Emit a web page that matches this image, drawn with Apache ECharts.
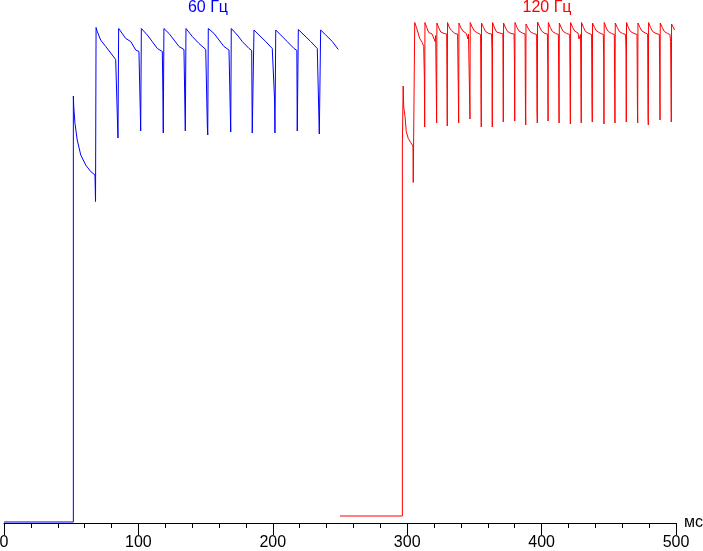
<!DOCTYPE html>
<html>
<head>
<meta charset="utf-8">
<script src="https://cdn.jsdelivr.net/npm/echarts@6/dist/echarts.min.js"></script>
<style>
html,body{margin:0;padding:0;background:#fff;}
#chart{width:703px;height:551px;}
</style>
</head>
<body>
<div id="chart"></div>
<script>
// Series labels
const seriesNames = ['60 Гц', '120 Гц'];
const axisUnit = 'мс';
// X axis ticks (ms)
const xTicks = [0, 100, 200, 300, 400, 500];

// 60 Hz response: [time ms, level]
const blueData = [
  [0, 0.2], [51.6, 0.2], [51.6, 85.4], [51.9, 83.2], [52.8, 79.9], [54.5, 76.6], [57.1, 73.6], [60.8, 71.6], [64.5, 70.3], [67.7, 69.6], [68.1, 64.3],
  [68.5, 99.1], [69.4, 98.3], [71.9, 96.6], [75.7, 95.3], [79.4, 94.0], [83.1, 92.7], [84.5, 92.6], [84.8, 77.0],
  [85.3, 98.9], [90.6, 96.9], [94.3, 96.3], [98.0, 94.6], [100.4, 94.3], [101.4, 82.4], [101.7, 78.4],
  [102.2, 98.9], [106.6, 97.6], [110.3, 96.3], [114.1, 94.9], [117.8, 94.3], [118.2, 86.1], [118.5, 78.0],
  [119.0, 98.9], [122.8, 97.9], [126.5, 96.6], [130.2, 95.3], [133.9, 94.7], [134.9, 78.4],
  [135.4, 98.9], [140.1, 97.3], [145.1, 95.9], [150.1, 94.7], [151.3, 79.2], [151.6, 77.6],
  [152.0, 98.9], [156.3, 97.9], [160.0, 96.6], [163.7, 95.3], [167.4, 94.6], [168.7, 78.2],
  [169.1, 98.9], [173.6, 97.6], [177.3, 96.3], [182.3, 94.9], [184.3, 94.5], [184.7, 78.0],
  [186.0, 98.6], [189.7, 97.6], [194.7, 96.3], [199.6, 94.9], [201.3, 84.8], [201.6, 78.0],
  [202.2, 98.6], [205.9, 97.6], [210.7, 96.3], [215.8, 94.9], [217.9, 94.5], [218.2, 78.4],
  [219.0, 98.7], [223.2, 97.6], [228.2, 96.3], [233.1, 94.9], [234.3, 94.6], [234.6, 77.8],
  [235.6, 98.6], [239.4, 97.6], [244.3, 96.3], [248.7, 94.7]
];

// 120 Hz response: [time ms, level]
const redData = [
  [250, 1.4], [296.4, 1.4], [296.4, 75.6], [297.0, 87.4], [297.4, 83.2], [298.4, 81.3], [299.3, 78.3], [300.8, 76.9], [302.6, 76.1], [304.3, 75.4], [304.5, 68.1],
  [305.6, 100.1], [307.5, 98.6], [309.3, 96.9], [311.2, 96.1], [312.3, 95.3], [312.8, 88.8], [313.0, 79.2],
  [313.2, 100.1], [314.5, 99.1], [316.0, 98.1], [318.5, 97.8], [320.8, 96.3], [321.2, 97.5], [321.9, 80.0],
  [322.1, 100.0], [323.5, 99.0], [325.0, 98.2], [327.5, 97.9], [329.4, 97.8], [329.8, 79.4],
  [330.0, 100.1], [331.5, 99.0], [333.0, 98.5], [335.5, 97.9], [337.5, 97.8], [338.0, 86.8], [338.3, 80.0],
  [338.5, 100.0], [340.0, 99.0], [341.5, 98.4], [344.0, 97.9], [345.2, 96.8], [345.6, 97.8], [346.7, 80.8],
  [346.9, 100.1], [348.3, 99.2], [350.0, 98.4], [352.5, 98.0], [354.6, 97.7], [354.9, 85.8], [355.1, 79.2],
  [355.3, 100.0], [356.8, 99.1], [358.3, 98.3], [360.8, 97.9], [362.8, 97.8], [363.1, 94.4], [363.3, 79.2],
  [363.5, 100.1], [365.0, 99.0], [366.5, 98.2], [369.0, 98.0], [371.2, 97.8], [371.5, 80.2],
  [371.7, 100.0], [373.2, 99.0], [374.7, 98.3], [377.2, 97.9], [379.5, 97.8], [379.8, 92.6], [380.0, 80.4],
  [380.2, 100.1], [381.7, 99.1], [383.2, 98.4], [385.7, 98.0], [387.7, 97.8], [388.0, 82.2], [388.2, 79.6],
  [388.4, 99.8], [389.9, 99.0], [391.4, 98.3], [393.9, 97.9], [396.3, 97.7], [396.6, 82.2], [396.8, 80.0],
  [397.0, 100.2], [398.5, 99.2], [400.0, 98.4], [402.5, 97.9], [404.3, 97.8], [404.6, 91.0], [404.8, 80.4],
  [405.0, 100.1], [406.5, 99.1], [408.0, 98.3], [410.5, 97.9], [412.5, 97.7], [413.0, 80.0],
  [413.2, 100.0], [414.7, 99.0], [416.2, 98.3], [418.7, 97.9], [420.9, 97.7], [421.4, 79.8],
  [421.6, 100.1], [423.1, 99.1], [424.6, 98.4], [427.1, 98.0], [427.8, 96.8], [429.0, 97.7], [429.3, 86.4], [429.5, 80.0],
  [429.7, 100.1], [431.2, 99.1], [432.7, 98.3], [435.2, 97.9], [437.2, 97.7], [437.5, 84.2], [437.7, 80.2],
  [437.9, 100.0], [439.4, 99.1], [440.9, 98.4], [443.4, 98.0], [445.9, 97.7], [446.2, 93.4], [446.4, 79.8],
  [446.6, 100.1], [448.1, 99.0], [449.6, 98.3], [452.1, 97.9], [454.1, 97.7], [454.6, 80.0],
  [454.8, 100.0], [456.3, 99.1], [457.8, 98.3], [460.3, 97.9], [462.5, 97.7], [462.8, 94.4], [463.0, 80.2],
  [463.2, 100.1], [464.7, 99.0], [466.2, 98.3], [468.7, 97.9], [471.0, 97.7], [471.3, 83.2], [471.5, 80.0],
  [471.7, 100.0], [473.2, 99.1], [474.7, 98.4], [477.2, 98.0], [478.9, 97.8], [479.2, 81.2], [479.4, 79.6],
  [479.6, 100.1], [481.1, 99.1], [482.6, 98.3], [485.1, 97.9], [487.6, 97.7], [487.9, 88.8], [488.1, 80.6],
  [488.3, 100.0], [489.8, 99.1], [491.3, 98.3], [493.8, 97.9], [495.5, 97.7], [496.0, 96.3], [496.5, 80.2],
  [496.7, 99.8], [497.8, 99.8], [499.0, 98.6]
];

const FONT = "'Liberation Sans Narrow', 'Liberation Sans', Arial, sans-serif";
const chart = echarts.init(document.getElementById('chart'), null, {renderer: 'canvas'});
chart.setOption({
  animation: false,
  backgroundColor: '#ffffff',
  grid: {left: 4, right: 27, top: 10, bottom: 28, containLabel: false, outerBoundsMode: 'none'},
  xAxis: {
    type: 'value',
    min: xTicks[0],
    max: xTicks[xTicks.length - 1],
    interval: xTicks[1] - xTicks[0],
    name: axisUnit,
    nameLocation: 'end',
    nameGap: 8,
    nameTextStyle: {color: '#000', fontSize: 16, fontFamily: FONT, verticalAlign: 'middle'},
    axisLine: {show: true, onZero: false, lineStyle: {color: '#000', width: 1}},
    axisTick: {show: true, length: 12, lineStyle: {color: '#000', width: 1}},
    minorTick: {show: true, splitNumber: 5, length: 5, lineStyle: {color: '#000', width: 1}},
    splitLine: {show: false},
    minorSplitLine: {show: false},
    axisLabel: {color: '#000', fontSize: 16, fontFamily: FONT, margin: 12}
  },
  yAxis: {type: 'value', min: 0, max: 102.6, show: false},
  graphic: [
    {type: 'text', x: 208, y: 0, style: {text: seriesNames[0], fill: '#0000ff', font: '16px ' + FONT, textAlign: 'center', textVerticalAlign: 'top'}},
    {type: 'text', x: 547, y: 0, style: {text: seriesNames[1], fill: '#ff0000', font: '16px ' + FONT, textAlign: 'center', textVerticalAlign: 'top'}}
  ],
  series: [
    {name: seriesNames[0], type: 'line', data: blueData, showSymbol: false, clip: false, lineStyle: {color: '#0000ff', width: 1}},
    {name: seriesNames[1], type: 'line', data: redData, showSymbol: false, clip: false, lineStyle: {color: '#ff0000', width: 1}}
  ]
});
</script>
</body>
</html>
